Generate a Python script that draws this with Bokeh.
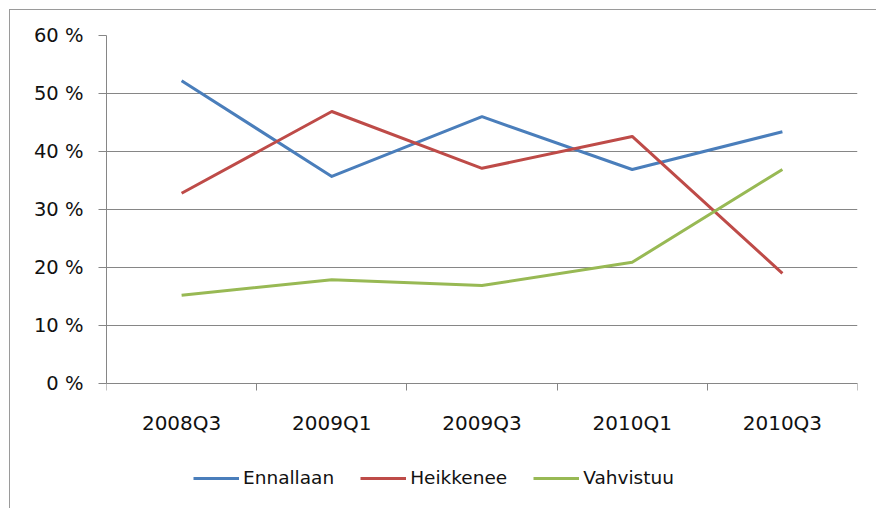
from bokeh.plotting import figure
from bokeh.models import FixedTicker, Legend, LegendItem, PrintfTickFormatter, Range1d
from bokeh.core.properties import value
from bokeh.embed import file_html
from bokeh.resources import INLINE

categories = ["2008Q3", "2009Q1", "2009Q3", "2010Q1", "2010Q3"]
ennallaan = [52.2, 35.7, 46.0, 36.9, 43.4]
heikkenee = [32.8, 46.9, 37.1, 42.6, 19.0]
vahvistuu = [15.2, 17.9, 16.9, 20.9, 36.9]
y_ticks = [0, 10, 20, 30, 40, 50, 60]

xs = [i + 0.5 for i in range(len(categories))]
y_max = y_ticks[-1]
px_per_unit = 5.8
frame_h = 509 - 35 - 15
y_min = y_max - frame_h / px_per_unit

FONT = "DejaVu Sans"
GRID = "#868686"

p = figure(width=867, height=499, output_backend="svg", toolbar_location=None,
           x_range=Range1d(0, len(categories)), y_range=Range1d(y_min, y_max),
           min_border_left=96, min_border_right=20, min_border_top=25, min_border_bottom=15)
p.margin = (9, 0, 0, 9)
p.styles = {"border-left": "1px solid #9a9a9a", "border-top": "1px solid #9a9a9a"}
p.outline_line_color = None
p.background_fill_color = "white"
p.border_fill_color = "white"

# y axis
p.yaxis.bounds = (0, y_max)
p.yaxis.ticker = FixedTicker(ticks=y_ticks)
p.yaxis.formatter = PrintfTickFormatter(format="%d %%")
p.yaxis.axis_line_color = GRID
p.yaxis.major_tick_line_color = GRID
p.yaxis.major_tick_out = 8
p.yaxis.major_tick_in = 0
p.yaxis.minor_tick_line_color = None
p.yaxis.major_label_standoff = 15
p.yaxis.major_label_text_font = FONT
p.yaxis.major_label_text_font_size = "19.5px"
p.yaxis.major_label_text_color = "#111111"

# x axis (at y = 0, labels drawn as text below)
p.xaxis.fixed_location = 0
p.xaxis.ticker = FixedTicker(ticks=xs, minor_ticks=list(range(len(categories) + 1)))
p.xaxis.major_label_overrides = {x: "" for x in xs}
p.xaxis.major_label_text_font_size = "1px"
p.xaxis.major_label_standoff = 0
p.xaxis.axis_line_color = GRID
p.xaxis.major_tick_line_color = None
p.xaxis.major_tick_out = 0
p.xaxis.major_tick_in = 0
p.xaxis.minor_tick_line_color = GRID
p.xaxis.minor_tick_out = 7
p.xaxis.minor_tick_in = 0

p.text(x=xs, y=[0] * len(xs), text=categories, y_offset=39,
       text_font=value(FONT), text_font_size=value("20px"),
       text_align="center", text_baseline="middle", text_color="#111111")

p.xgrid.grid_line_color = None
p.ygrid.grid_line_color = GRID
p.ygrid.ticker = FixedTicker(ticks=y_ticks)

r1 = p.line(xs, ennallaan, line_color="#4A7EBB", line_width=3, line_join="round")
r2 = p.line(xs, heikkenee, line_color="#BE4B48", line_width=3, line_join="round")
r3 = p.line(xs, vahvistuu, line_color="#98B954", line_width=3, line_join="round")

legend = Legend(items=[LegendItem(label="Ennallaan", renderers=[r1]),
                       LegendItem(label="Heikkenee", renderers=[r2]),
                       LegendItem(label="Vahvistuu", renderers=[r3])],
                orientation="horizontal", location=(87, 6),
                glyph_width=46, glyph_height=20, label_height=20, label_standoff=4,
                spacing=26, padding=0, margin=0, border_line_color=None,
                background_fill_alpha=0, label_text_font=FONT,
                label_text_font_size="18.5px", label_text_color="#111111")
p.add_layout(legend, "center")

open("out.html", "w").write(file_html(p, INLINE))
